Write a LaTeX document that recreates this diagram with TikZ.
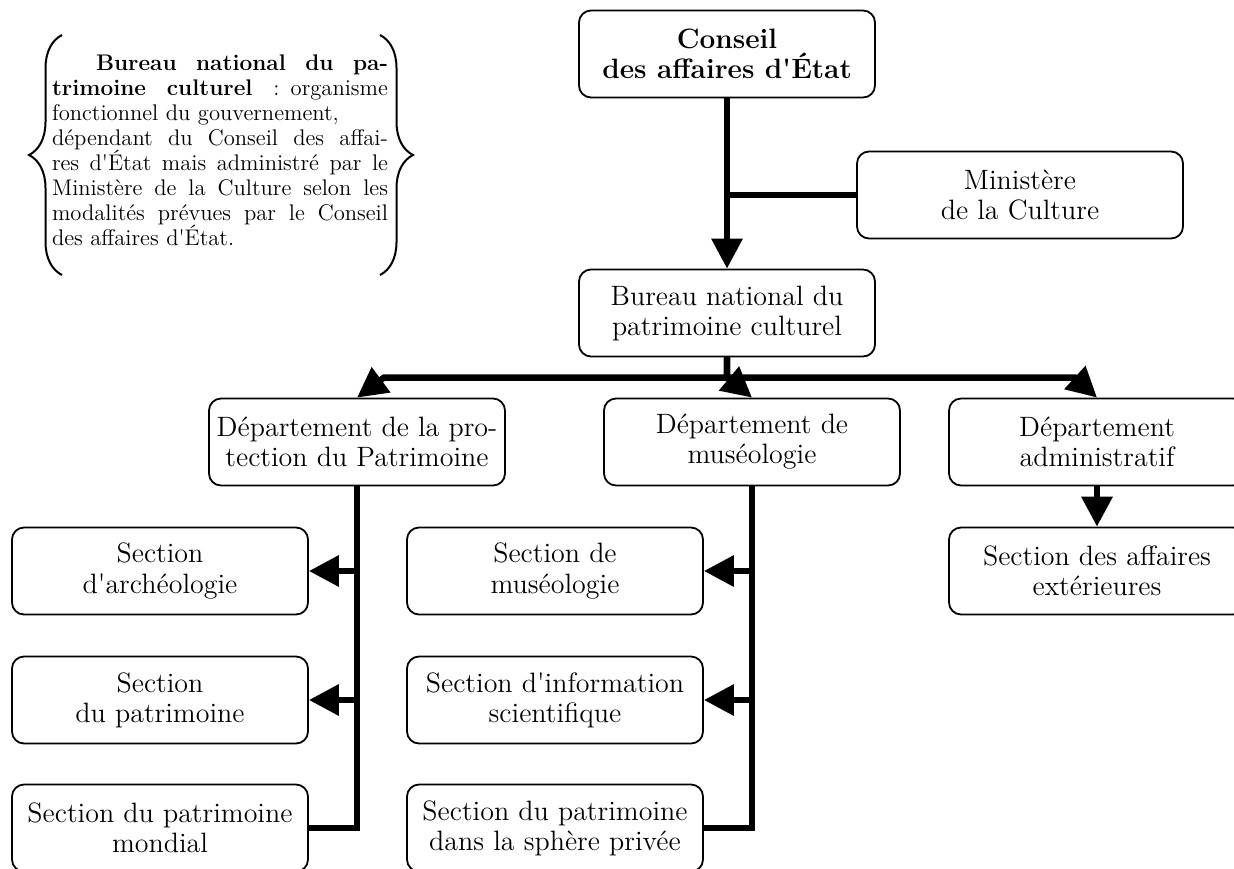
\documentclass[tikz,border=0pt]{standalone}
\usepackage{tikz}
\usetikzlibrary{arrows.meta, decorations.pathreplacing}
\tikzset{
  bx/.style={draw, rounded corners=6pt, line width=0.9pt, minimum width=148pt,
             minimum height=43.5pt, align=center, inner sep=2pt,
             font=\fontsize{14}{15}\selectfont},
  ln/.style={line width=3.2pt},
  arr/.style={ln, -{Triangle[length=15pt,width=15pt]}},
  brc/.style={decorate, decoration={brace, amplitude=16.5pt}, line width=1pt},
  nt/.style={text width=168pt, inner sep=0pt,
             font=\fontsize{11.3}{12.5}\selectfont}
}
\newcommand{\fl}[1]{{\spaceskip=0.33em plus 1fil minus 0.1em\hbox to 168pt{#1}}}
\newcommand{\rl}[1]{\hbox{#1}}
\newcommand{\q}{\textquotesingle}

\begin{document}
\begin{tikzpicture}[x=0.5pt, y=-0.5pt]
  \useasboundingbox (0,0) rectangle (1234,868);
  % Note
  \node[nt] (note) at (220,150) {\fl{\hspace*{22pt}\textbf{Bureau national du pa-}}
    \fl{\textbf{trimoine culturel} : organisme}
    \rl{fonctionnel du gouvernement,}
    \fl{dépendant du Conseil des affai-}
    \fl{res d\q État mais administré par le}
    \fl{Ministère de la Culture selon les}
    \fl{modalités prévues par le Conseil}
    \rl{des affaires d\q État.}};
  \draw[brc] (62,275) -- (62,35);
  \draw[brc] (380,35) -- (380,275);
  % Top
  \node[bx, font=\fontsize{14}{15}\selectfont\bfseries] (conseil) at (727,54) {Conseil\\des affaires d\q État};
  \node[bx, minimum width=163pt] (ministere) at (1020,195) {Ministère\\de la Culture};
  \node[bx] (bureau) at (727,313) {Bureau national du\\patrimoine culturel};
  \draw[arr] (conseil.south) -- (bureau.north);
  \draw[ln] (ministere.west) -- (ministere.west -| conseil.south);
  % Departments
  \node[bx] (dprot) at (357,442) {Département de la pro-\\tection du Patrimoine};
  \node[bx] (dmus) at (752,442) {Département de\\muséologie};
  \node[bx] (dadmin) at (1097,442) {Département\\administratif};
  \draw[arr] (bureau.south) |- ([xshift=13.5pt,yshift=10pt]dprot.north) -- (dprot.north);
  \draw[arr] (bureau.south) |- ([xshift=-12pt,yshift=10pt]dmus.north) -- (dmus.north);
  \draw[arr] (bureau.south) |- ([xshift=-11pt,yshift=10pt]dadmin.north) -- (dadmin.north);
  % Sections
  \node[bx] (sarch) at (160,571) {Section\\d\q archéologie};
  \node[bx] (spat) at (160,700) {Section\\du patrimoine};
  \node[bx] (smond) at (160,828) {Section du patrimoine\\mondial};
  \node[bx] (smus) at (555,571) {Section de\\muséologie};
  \node[bx] (sinfo) at (555,700) {Section d\q information\\scientifique};
  \node[bx] (spriv) at (555,828) {Section du patrimoine\\dans la sphère privée};
  \node[bx] (sext) at (1097,571) {Section des affaires\\extérieures};
  \draw[ln] (dprot.south) |- (smond.east);
  \draw[arr] (dprot.south |- sarch.east) -- (sarch.east);
  \draw[arr] (dprot.south |- spat.east) -- (spat.east);
  \draw[ln] (dmus.south) |- (spriv.east);
  \draw[arr] (dmus.south |- smus.east) -- (smus.east);
  \draw[arr] (dmus.south |- sinfo.east) -- (sinfo.east);
  \draw[arr] (dadmin.south) -- (sext.north);
\end{tikzpicture}
\end{document}
